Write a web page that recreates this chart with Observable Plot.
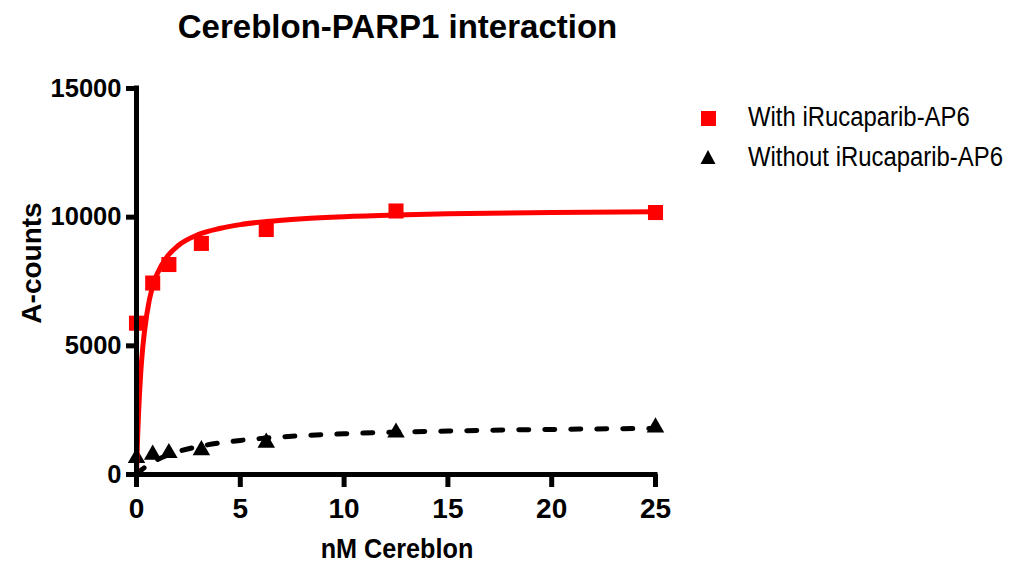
<!DOCTYPE html>
<html><head><meta charset="utf-8">
<script src="https://cdn.jsdelivr.net/npm/d3@7"></script>
<script src="https://cdn.jsdelivr.net/npm/@observablehq/plot@0.6"></script>
<style>
body{margin:0;background:#fff;}
#wrap{position:relative;width:1021px;height:568px;font-family:"Liberation Sans",Arial,sans-serif;color:#000;overflow:hidden;}
.t{position:absolute;white-space:nowrap;line-height:1;}
#wrap svg{position:absolute;left:0;top:0;}
</style></head><body><div id="wrap"></div>
<script>
// Measured points (nM Cereblon vs A-counts)
const concentrations = [0, 0.78, 1.56, 3.125, 6.25, 12.5, 25];
const withValues = [5880, 7440, 8160, 8980, 9520, 10240, 10180];
const withoutValues = [640, 770, 835, 945, 1240, 1630, 1830];

// Fitted curves
const fitWithX = [0, 0.05, 0.1, 0.2, 0.3, 0.5, 0.78, 1, 1.5, 2, 3, 4, 5, 6.25, 8, 10, 12.5, 15, 20, 25];
const fitWithY = [0, 1360, 2400, 3900, 4930, 6240, 7330, 7800, 8490, 8890, 9330, 9560, 9710, 9830, 9940, 10020, 10085, 10130, 10180, 10215];
const fitWithoutX = [0, 0.25, 0.5, 0.78, 1, 1.5, 2, 3, 4, 5, 6.25, 8, 10, 12.5, 15, 20, 25];
const fitWithoutY = [0, 184, 337, 480, 576, 752, 890, 1089, 1225, 1325, 1417, 1509, 1582, 1646, 1691, 1752, 1790];

const xTicks = [0, 5, 10, 15, 20, 25];
const yTicks = [0, 5000, 10000, 15000];
const seriesNames = ["With iRucaparib-AP6", "Without iRucaparib-AP6"];
const titleText = "Cereblon-PARP1 interaction";
const xLabel = "nM Cereblon";
const yLabel = "A-counts";

const RED = "#ff0000";
const withPts = concentrations.map((x, i) => ({x, y: withValues[i]}));
const withoutPts = concentrations.map((x, i) => ({x, y: withoutValues[i]}));
const fitWith = fitWithX.map((x, i) => ({x, y: fitWithY[i]}));
const fitWithout = fitWithoutX.map((x, i) => ({x, y: fitWithoutY[i]}));

const plot = Plot.plot({
  width: 1021, height: 568,
  marginLeft: 136, marginRight: 366, marginTop: 88, marginBottom: 94,
  x: {domain: [0, 25]},
  y: {domain: [0, 15000]},
  style: {fontFamily: "'Liberation Sans', Arial, sans-serif", fontWeight: "bold", background: "transparent", overflow: "visible"},
  marks: [
    Plot.line(fitWithout, {x: "x", y: "y", curve: "monotone-x", stroke: "#000", strokeWidth: 5, strokeDasharray: "10,16", strokeLinecap: "round"}),
    Plot.dot(withoutPts, {x: "x", y: "y", symbol: "triangle", r: 6.5, fill: "#000"}),
    Plot.dot(withPts, {x: "x", y: "y", symbol: "square", r: 8.5, fill: RED}),
    Plot.line(fitWith, {x: "x", y: "y", curve: "monotone-x", stroke: RED, strokeWidth: 5}),
    Plot.ruleY([0], {stroke: "#000", strokeWidth: 5, strokeLinecap: "square"}),
    Plot.ruleX([0], {stroke: "#000", strokeWidth: 5, strokeLinecap: "square"}),
    Plot.axisX({ticks: xTicks, tickSize: 13, tickPadding: 11, strokeWidth: 5, fontSize: 28, label: null, tickFormat: d => String(d)}),
    Plot.axisY({ticks: yTicks, tickSize: 10, tickPadding: 5, strokeWidth: 5, fontSize: 25.5, label: null, tickFormat: d => String(d)})
  ]
});

const wrap = document.getElementById("wrap");
wrap.appendChild(plot);

function addText(txt, css) {
  const d = document.createElement("div");
  d.className = "t";
  d.textContent = txt;
  Object.assign(d.style, css);
  wrap.appendChild(d);
  return d;
}
addText(titleText, {left: "397.5px", top: "9.5px", fontSize: "33px", fontWeight: "bold", transform: "translateX(-50%)"});
addText(xLabel, {left: "397px", top: "537px", fontSize: "28px", lineHeight: "24px", fontWeight: "bold", transform: "translateX(-50%) scaleX(0.9)"});
addText(yLabel, {left: "32px", top: "262.5px", fontSize: "28px", fontWeight: "bold", transform: "translate(-50%,-50%) rotate(-90deg)"});

// legend
const sq = document.createElement("div");
Object.assign(sq.style, {position: "absolute", left: "700.5px", top: "110.5px", width: "15px", height: "15px", background: RED});
wrap.appendChild(sq);
const tri = document.createElementNS("http://www.w3.org/2000/svg", "svg");
tri.setAttribute("width", "16"); tri.setAttribute("height", "16");
Object.assign(tri.style, {position: "absolute", left: "700px", top: "149px"});
tri.innerHTML = '<polygon points="8,1 15.5,15 0.5,15" fill="#000"/>';
wrap.appendChild(tri);
addText(seriesNames[0], {left: "748px", top: "104px", fontSize: "27px", transformOrigin: "left center", transform: "scaleX(0.885)"});
addText(seriesNames[1], {left: "748px", top: "144px", fontSize: "27px", transformOrigin: "left center", transform: "scaleX(0.885)"});
</script>
</body></html>
